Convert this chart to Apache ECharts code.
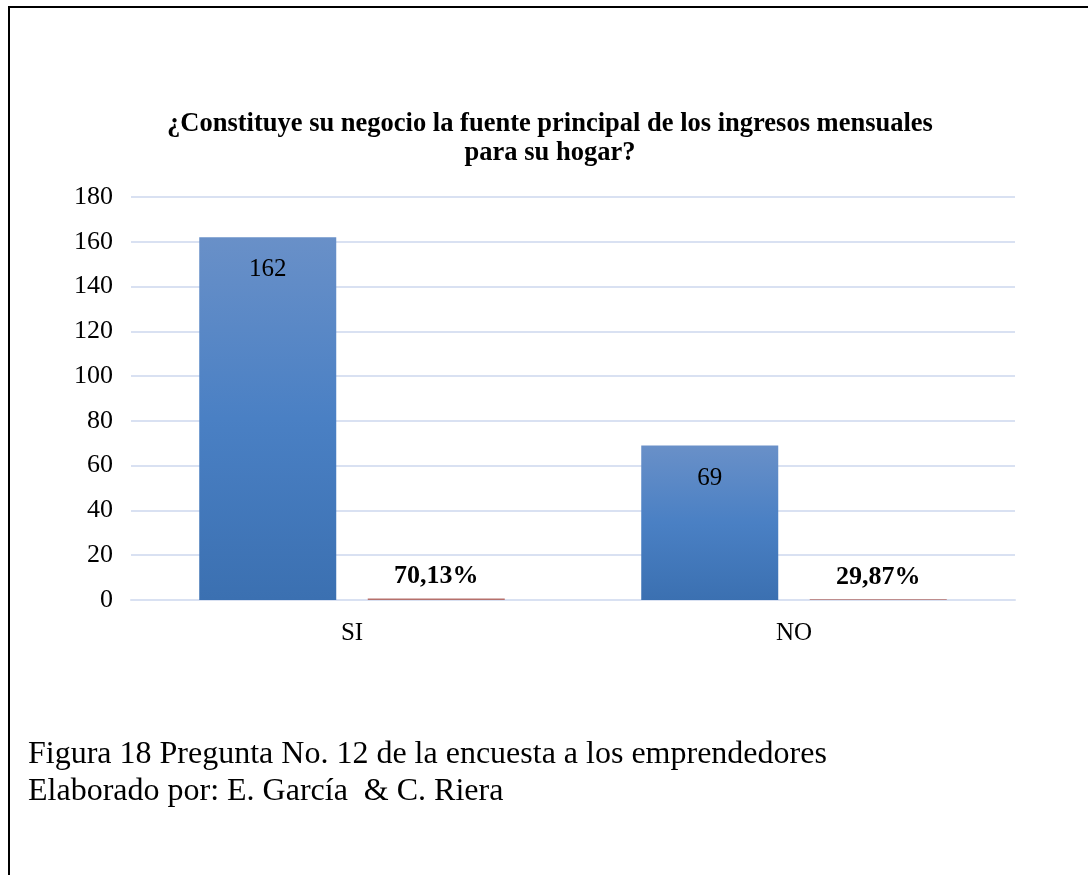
<!DOCTYPE html>
<html>
<head>
<meta charset="utf-8">
<script src="https://cdn.jsdelivr.net/npm/echarts@6/dist/echarts.min.js"></script>
<style>
  html, body { margin: 0; padding: 0; background: #fff; }
  #frame { position: absolute; left: 8px; top: 6px; width: 1100px; height: 900px;
           border-top: 2px solid #000; border-left: 2px solid #000; }
  #chart { position: absolute; left: 0; top: 0; width: 1088px; height: 875px; }
</style>
</head>
<body>
<div id="frame"></div>
<div id="chart"></div>
<script>
// datos de la pregunta 12
var categorias = ['SI', 'NO'];
var respuestas = [162, 69];
var porcentajes = [0.7013, 0.2987];
var yTicks = { min: 0, max: 180, interval: 20 };

var serif = 'Liberation Serif';

var chart = echarts.init(document.getElementById('chart'));

chart.setOption({
  animation: false,
  title: {
    text: '¿Constituye su negocio la fuente principal de los ingresos mensuales\npara su hogar?',
    left: 545,
    top: 105,
    textAlign: 'center',
    textStyle: {
      fontFamily: serif,
      fontWeight: 'bold',
      fontSize: 26.5,
      lineHeight: 29,
      color: '#000',
      align: 'center'
    }
  },
  grid: { left: 131, right: 73, top: 197, bottom: 275 },
  xAxis: {
    type: 'category',
    data: categorias,
    axisLine: { lineStyle: { color: '#d9e1f2', width: 2 } },
    axisTick: { show: false },
    axisLabel: { fontFamily: serif, fontSize: 25, color: '#000', margin: 21 }
  },
  yAxis: {
    type: 'value',
    min: yTicks.min,
    max: yTicks.max,
    interval: yTicks.interval,
    axisLine: { show: false },
    axisTick: { show: false },
    splitLine: { lineStyle: { color: '#d9e1f2', width: 2 } },
    axisLabel: { fontFamily: serif, fontSize: 26, color: '#000', margin: 18 }
  },
  series: [
    {
      type: 'bar',
      data: respuestas,
      barWidth: 137,
      barGap: '23%',
      itemStyle: {
        color: new echarts.graphic.LinearGradient(0, 0, 0, 1, [
          { offset: 0, color: '#6990c8' },
          { offset: 0.5, color: '#4a80c4' },
          { offset: 1, color: '#3b70b1' }
        ])
      },
      label: {
        show: true,
        position: 'insideTop',
        distance: 20,
        fontFamily: serif,
        fontSize: 25,
        color: '#000'
      }
    },
    {
      type: 'bar',
      data: porcentajes,
      barWidth: 137,
      itemStyle: { color: '#b5706c' },
      label: {
        show: true,
        position: 'top',
        distance: 9,
        fontFamily: serif,
        fontWeight: 'bold',
        fontSize: 26,
        color: '#000',
        formatter: function (p) {
          return (p.value * 100).toFixed(2).replace('.', ',') + '%';
        }
      }
    }
  ],
  graphic: [
    {
      type: 'text',
      left: 28,
      top: 739,
      style: {
        text: 'Figura 18 Pregunta No. 12 de la encuesta a los emprendedores',
        font: '32px "Liberation Serif"',
        fill: '#000'
      }
    },
    {
      type: 'text',
      left: 28,
      top: 776,
      style: {
        text: 'Elaborado por: E. García  & C. Riera',
        font: '32px "Liberation Serif"',
        fill: '#000'
      }
    }
  ]
});
</script>
</body>
</html>
